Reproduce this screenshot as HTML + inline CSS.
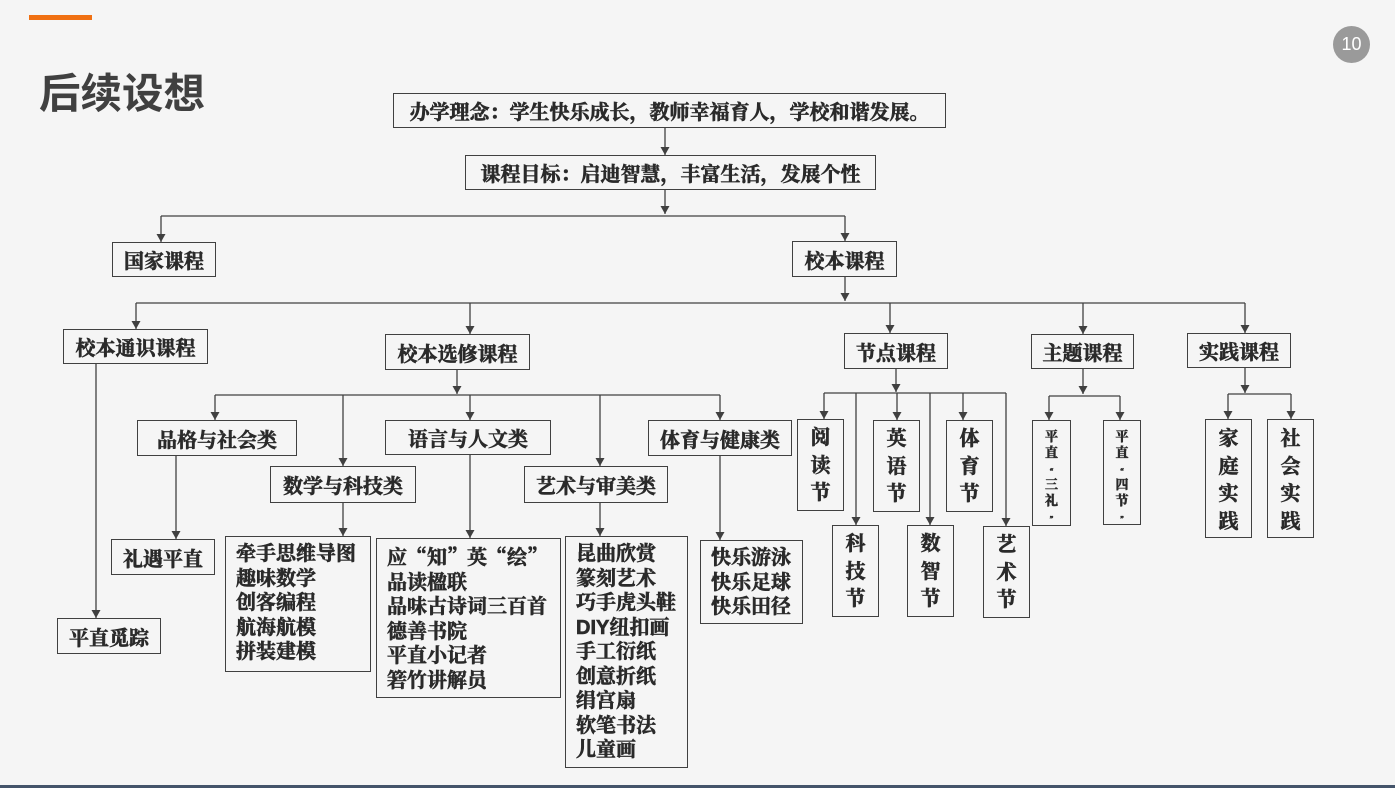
<!DOCTYPE html>
<html><head><meta charset="utf-8"><style>
*{margin:0;padding:0;box-sizing:border-box}
body{width:1395px;height:788px;background:#f5f5f5;position:relative;overflow:hidden;font-family:"Liberation Serif","Noto Serif CJK SC",serif;color:#2a2a2a}
.b,.l,.v,.s{-webkit-text-stroke:0.6px #2a2a2a}
.b{position:absolute;border:1.3px solid #404040;display:flex;align-items:center;justify-content:center;font-weight:bold;font-size:20px;white-space:nowrap;background:#f5f5f5}
.l{position:absolute;border:1.3px solid #404040;font-weight:bold;font-size:20px;line-height:24.5px;padding:5px 0 0 10px;white-space:nowrap;background:#f5f5f5}
.v{position:absolute;border:1.3px solid #404040;font-weight:bold;font-size:20px;line-height:27.5px;text-align:center;padding-top:5px;background:#f5f5f5}
.s{position:absolute;border:1.3px solid #404040;font-weight:bold;font-size:13px;line-height:16px;text-align:center;padding-top:8px;background:#f5f5f5}
.q{font-family:"Noto Serif CJK SC",serif}
svg{position:absolute;left:0;top:0}
</style></head><body>
<div style="position:absolute;left:29px;top:15px;width:63px;height:5px;background:#f07012"></div>
<div style="position:absolute;left:39px;top:60px;font-family:'Liberation Sans','Noto Sans CJK SC',sans-serif;font-weight:bold;font-size:41.5px;color:#404040">后续设想</div>
<div style="position:absolute;left:1333px;top:26px;width:37px;height:37px;border-radius:50%;background:#9a9a9a;color:#fff;font-family:'Liberation Sans',sans-serif;font-size:18px;line-height:37px;text-align:center">10</div>
<div style="position:absolute;left:0;top:785px;width:1395px;height:3px;background:#44546a"></div>

<svg width="1395" height="788">
<defs><marker id="a" markerWidth="10" markerHeight="10" refX="8" refY="4.5" orient="auto" markerUnits="userSpaceOnUse"><path d="M0,0 L8,4.5 L0,9 z" fill="#404040"/></marker></defs>
<g stroke="#404040" stroke-width="1.3" fill="none">
<path d="M665,128V155" marker-end="url(#a)"/>
<path d="M665,190V214" marker-end="url(#a)"/>
<path d="M161,216H845"/>
<path d="M161,216V242" marker-end="url(#a)"/>
<path d="M845,216V241" marker-end="url(#a)"/>
<path d="M845,277V301" marker-end="url(#a)"/>
<path d="M136,303H1245"/>
<path d="M136,303V329" marker-end="url(#a)"/>
<path d="M470,303V334" marker-end="url(#a)"/>
<path d="M890,303V333" marker-end="url(#a)"/>
<path d="M1083,303V334" marker-end="url(#a)"/>
<path d="M1245,303V333" marker-end="url(#a)"/>
<path d="M96,364V618" marker-end="url(#a)"/>
<path d="M457,370V394" marker-end="url(#a)"/>
<path d="M215,395H720"/>
<path d="M215,395V420" marker-end="url(#a)"/>
<path d="M343,395V466" marker-end="url(#a)"/>
<path d="M470,395V420" marker-end="url(#a)"/>
<path d="M600,395V466" marker-end="url(#a)"/>
<path d="M720,395V420" marker-end="url(#a)"/>
<path d="M176,456V539" marker-end="url(#a)"/>
<path d="M343,503V536" marker-end="url(#a)"/>
<path d="M470,455V538" marker-end="url(#a)"/>
<path d="M600,503V536" marker-end="url(#a)"/>
<path d="M720,456V540" marker-end="url(#a)"/>
<path d="M896,369V392" marker-end="url(#a)"/>
<path d="M824,393H1006"/>
<path d="M824,393V419" marker-end="url(#a)"/>
<path d="M856,393V525" marker-end="url(#a)"/>
<path d="M897,393V420" marker-end="url(#a)"/>
<path d="M930,393V525" marker-end="url(#a)"/>
<path d="M963,393V420" marker-end="url(#a)"/>
<path d="M1006,393V526" marker-end="url(#a)"/>
<path d="M1083,369V394" marker-end="url(#a)"/>
<path d="M1049,396H1120"/>
<path d="M1049,396V420" marker-end="url(#a)"/>
<path d="M1120,396V420" marker-end="url(#a)"/>
<path d="M1245,368V393" marker-end="url(#a)"/>
<path d="M1228,394H1291"/>
<path d="M1228,394V419" marker-end="url(#a)"/>
<path d="M1291,394V419" marker-end="url(#a)"/>
</g></svg>

<div class="b" style="left:393px;top:93px;width:553px;height:35px">办学理念：学生快乐成长，教师幸福育人，学校和谐发展。</div>
<div class="b" style="left:465px;top:155px;width:411px;height:35px">课程目标：启迪智慧，丰富生活，发展个性</div>
<div class="b" style="left:112px;top:242px;width:104px;height:35px">国家课程</div>
<div class="b" style="left:792px;top:241px;width:105px;height:36px">校本课程</div>
<div class="b" style="left:63px;top:329px;width:145px;height:35px">校本通识课程</div>
<div class="b" style="left:385px;top:334px;width:145px;height:36px">校本选修课程</div>
<div class="b" style="left:844px;top:333px;width:104px;height:36px">节点课程</div>
<div class="b" style="left:1031px;top:334px;width:103px;height:35px">主题课程</div>
<div class="b" style="left:1187px;top:333px;width:104px;height:35px">实践课程</div>
<div class="b" style="left:137px;top:420px;width:160px;height:36px">品格与社会类</div>
<div class="b" style="left:385px;top:420px;width:166px;height:35px">语言与人文类</div>
<div class="b" style="left:648px;top:420px;width:144px;height:36px">体育与健康类</div>
<div class="b" style="left:270px;top:466px;width:146px;height:37px">数学与科技类</div>
<div class="b" style="left:524px;top:466px;width:144px;height:37px">艺术与审美类</div>
<div class="b" style="left:111px;top:539px;width:104px;height:36px">礼遇平直</div>
<div class="b" style="left:57px;top:618px;width:104px;height:36px">平直觅踪</div>
<div class="l" style="left:225px;top:536px;width:146px;height:136px">牵手思维导图<br>趣味数学<br>创客编程<br>航海航模<br>拼装建模</div>
<div class="l" style="left:376px;top:538px;width:185px;height:160px">应<span class="q">“</span>知<span class="q">”</span>英<span class="q">“</span>绘<span class="q">”</span><br>品读楹联<br>品味古诗词三百首<br>德善书院<br>平直小记者<br>箬竹讲解员</div>
<div class="l" style="left:565px;top:536px;width:123px;height:232px">昆曲欣赏<br>篆刻艺术<br>巧手虎头鞋<br><span style="font-family:'Liberation Sans',sans-serif">DIY</span>纽扣画<br>手工衍纸<br>创意折纸<br>绢宫扇<br>软笔书法<br>儿童画</div>
<div class="l" style="left:700px;top:540px;width:103px;height:84px">快乐游泳<br>快乐足球<br>快乐田径</div>
<div class="v" style="left:797px;top:419px;width:47px;height:92px">阅<br>读<br>节</div>
<div class="v" style="left:873px;top:420px;width:47px;height:92px">英<br>语<br>节</div>
<div class="v" style="left:946px;top:420px;width:47px;height:92px">体<br>育<br>节</div>
<div class="v" style="left:832px;top:525px;width:47px;height:92px">科<br>技<br>节</div>
<div class="v" style="left:907px;top:525px;width:47px;height:92px">数<br>智<br>节</div>
<div class="v" style="left:983px;top:526px;width:47px;height:92px">艺<br>术<br>节</div>
<div class="s" style="left:1032px;top:420px;width:39px;height:106px">平<br>直<br><span style="font-size:7px;line-height:8px">“</span><br>三<br>礼<br><span style="font-size:7px;line-height:8px">”</span></div>
<div class="s" style="left:1103px;top:420px;width:38px;height:105px">平<br>直<br><span style="font-size:7px;line-height:8px">“</span><br>四<br>节<br><span style="font-size:7px;line-height:8px">”</span></div>
<div class="v" style="left:1205px;top:419px;width:47px;height:119px;padding-top:6px">家<br>庭<br>实<br>践</div>
<div class="v" style="left:1267px;top:419px;width:47px;height:119px;padding-top:6px">社<br>会<br>实<br>践</div>
</body></html>
